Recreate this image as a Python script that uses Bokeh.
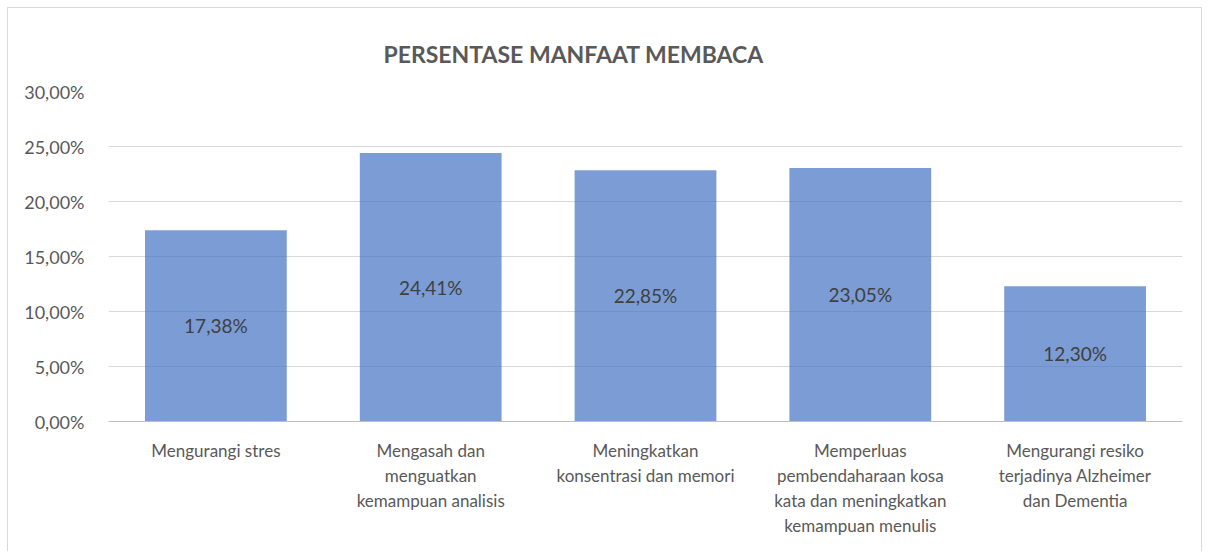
from bokeh.plotting import figure
from bokeh.models import ColumnDataSource, FactorRange, Range1d, FixedTicker
from bokeh.embed import file_html
from bokeh.resources import INLINE
from bokeh.core.properties import value

categories = [
    "Mengurangi stres",
    "Mengasah dan\nmenguatkan\nkemampuan analisis",
    "Meningkatkan\nkonsentrasi dan memori",
    "Memperluas\npembendaharaan kosa\nkata dan meningkatkan\nkemampuan menulis",
    "Mengurangi resiko\nterjadinya Alzheimer\ndan Dementia",
]
values = [17.38, 24.41, 22.85, 23.05, 12.30]
value_labels = ["17,38%", "24,41%", "22,85%", "23,05%", "12,30%"]
y_ticks = [0, 5, 10, 15, 20, 25, 30]
y_tick_labels = ["0,00%", "5,00%", "10,00%", "15,00%", "20,00%", "25,00%", "30,00%"]
title_text = "PERSENTASE MANFAAT MEMBACA"

FONT = "Lato"

src = ColumnDataSource(dict(
    cat=categories,
    val=values,
    mid=[v / 2 for v in values],
    lab=value_labels,
))

p = figure(
    x_range=FactorRange(factors=categories, range_padding=0),
    y_range=Range1d(0, 30),
    width=1195, height=544,
    output_backend="svg", toolbar_location=None,
    min_border_left=100, min_border_right=21,
    min_border_top=83, min_border_bottom=131,
    title=title_text,
)
p.styles = {
    "border-top": "1px solid #d9d9d9",
    "border-left": "1px solid #d9d9d9",
    "border-right": "1px solid #d9d9d9",
    "margin-left": "7px",
    "margin-top": "7px",
}

p.title.text_font = FONT
p.title.text_font_style = "bold"
p.title.text_font_size = "23px"
p.title.text_color = "#595959"
p.title.align = "left"
p.title.offset = 275
p.title.standoff = 47

p.outline_line_color = None
p.background_fill_color = "white"

p.vbar(x="cat", top="val", width=0.66, source=src,
       fill_color="#4472C4", fill_alpha=0.7, line_color=None)

p.text(x="cat", y="mid", text="lab", source=src,
       text_font=value(FONT), text_font_size="19px", text_color="#404040",
       text_align="center", text_baseline="middle")

# y axis
p.yaxis.ticker = FixedTicker(ticks=y_ticks)
p.yaxis.major_label_overrides = {t: l for t, l in zip(y_ticks, y_tick_labels)}
p.yaxis.axis_line_color = None
p.yaxis.major_tick_line_color = None
p.yaxis.minor_tick_line_color = None
p.yaxis.major_label_text_font = FONT
p.yaxis.major_label_text_font_size = "18px"
p.yaxis.major_label_text_color = "#595959"
p.yaxis.major_label_standoff = 18

# x axis
p.xaxis.axis_line_color = "#bfbfbf"
p.xaxis.axis_line_width = 1
p.xaxis.major_tick_line_color = None
p.xaxis.minor_tick_line_color = None
p.xaxis.major_label_text_font = FONT
p.xaxis.major_label_text_font_size = "17px"
p.xaxis.major_label_text_color = "#595959"
p.xaxis.major_label_standoff = 12
p.xaxis.major_label_orientation = "horizontal"

p.xgrid.grid_line_color = None
p.ygrid.grid_line_color = "#d9d9d9"
p.ygrid.grid_line_width = 1

open("out.html", "w").write(file_html(p, INLINE))
